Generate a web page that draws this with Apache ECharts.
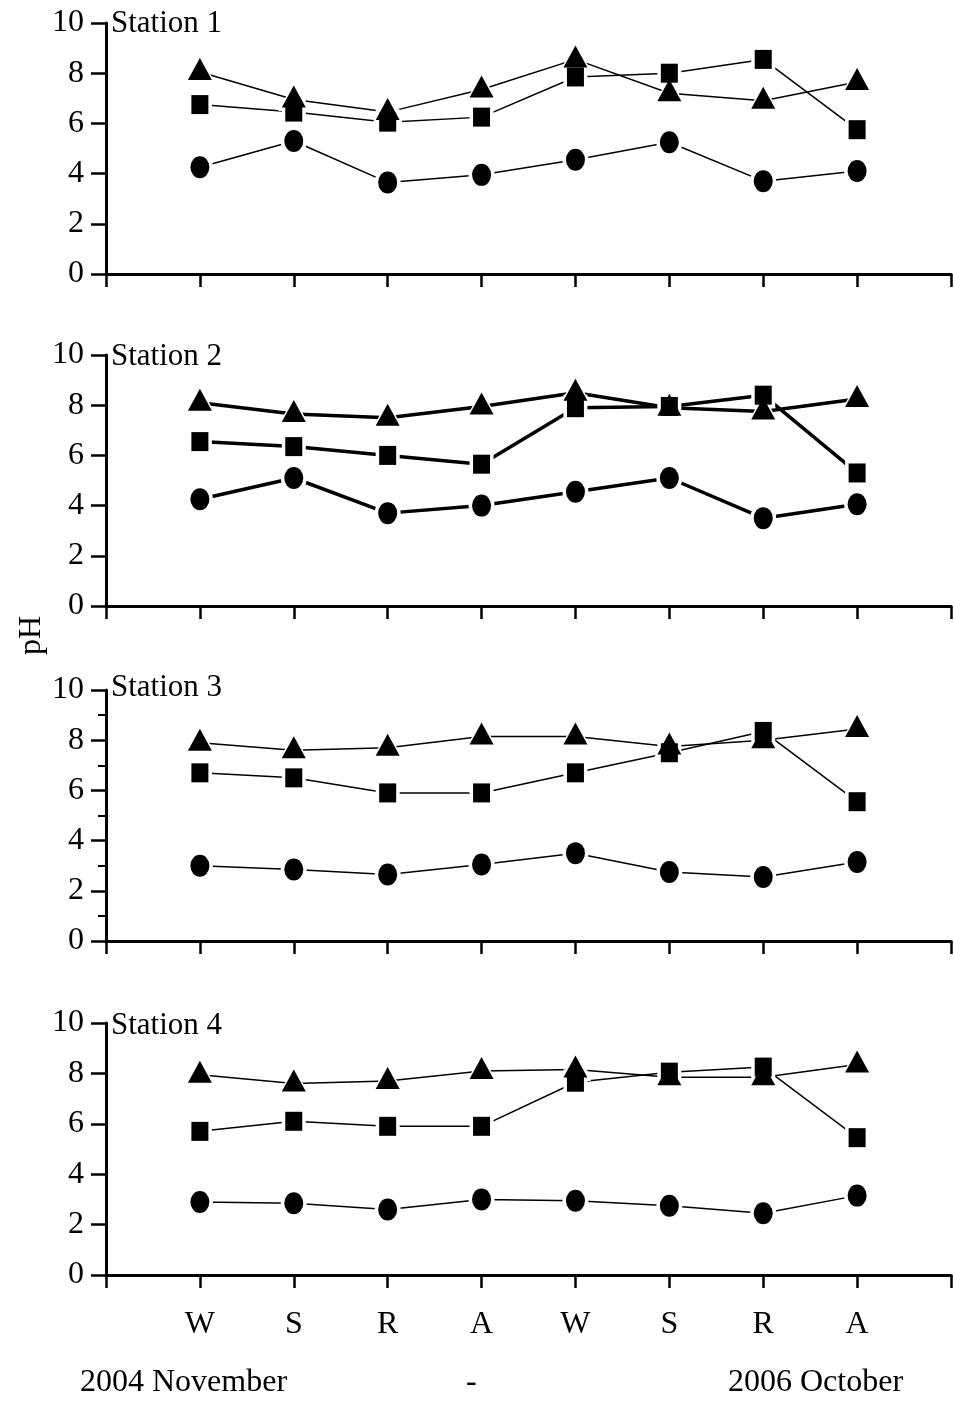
<!DOCTYPE html>
<html>
<head>
<meta charset="utf-8">
<script src="https://cdn.jsdelivr.net/npm/echarts@6/dist/echarts.min.js"></script>
<style>html,body{margin:0;padding:0;background:#fff}#c{width:954px;height:1402px}</style>
</head>
<body>
<div id="c"></div>
<script>
// Categories (seasons, 2004 November - 2006 October)
const categories = ['W','S','R','A','W','S','R','A'];
const stations = ['Station 1','Station 2','Station 3','Station 4'];
const yTicks = [0,2,4,6,8,10];

// Station 1
const tri1 = [8.05, 6.95, 6.45, 7.35, 8.55, 7.2, 6.9, 7.65];
const sq1  = [6.75, 6.45, 6.05, 6.25, 7.85, 8.0, 8.55, 5.75];
const ci1  = [4.25, 5.3, 3.65, 3.95, 4.55, 5.25, 3.7, 4.1];
// Station 2
const tri2 = [8.1, 7.65, 7.5, 7.95, 8.5, 7.9, 7.75, 8.25];
const sq2  = [6.55, 6.35, 6.0, 5.65, 7.9, 7.95, 8.4, 5.3];
const ci2  = [4.25, 5.1, 3.7, 4.0, 4.55, 5.1, 3.5, 4.05];
// Station 3
const tri3 = [7.9, 7.6, 7.7, 8.15, 8.15, 7.75, 8.0, 8.45];
const sq3  = [6.7, 6.5, 5.9, 5.9, 6.7, 7.5, 8.35, 5.55];
const ci3  = [3.0, 2.85, 2.65, 3.05, 3.5, 2.75, 2.55, 3.15];
// Station 4
const tri4 = [7.95, 7.6, 7.7, 8.1, 8.15, 7.85, 7.85, 8.35];
const sq4  = [5.7, 6.1, 5.9, 5.9, 7.65, 8.05, 8.25, 5.45];
const ci4  = [2.9, 2.85, 2.6, 3.0, 2.95, 2.75, 2.45, 3.15];

const panels = [
  {tri: tri1, sq: sq1, ci: ci1},
  {tri: tri2, sq: sq2, ci: ci2},
  {tri: tri3, sq: sq3, ci: ci3},
  {tri: tri4, sq: sq4, ci: ci4}
];

const FONT = '"Liberation Serif", "Times New Roman", serif';
const tops = [23, 355, 690, 1023];
const heights = [251, 251, 251, 252];
const lineWidths = [1.5, 3.5, 1.5, 1.5];

const shapes = {
  tri: {symbol: 'triangle', size: [24, 22], offset: [0, -3]},
  sq:  {symbol: 'rect', size: [17, 19], offset: [0, 0]},
  ci:  {symbol: 'circle', size: [19, 22], offset: [0, 0]}
};

const grid = [], xAxis = [], yAxis = [], series = [], graphic = [];

panels.forEach((p, i) => {
  grid.push({left: 106, right: 3, top: tops[i], height: heights[i]});
  xAxis.push({
    type: 'value', gridIndex: i, min: 0, max: 9, interval: 1,
    axisLine: {show: true, lineStyle: {color: '#000', width: 3}},
    axisTick: {show: true, length: 13, lineStyle: {color: '#000', width: 2.5}},
    splitLine: {show: false},
    axisLabel: {
      show: i === 3, margin: 34, fontFamily: FONT, fontSize: 32, color: '#000',
      formatter: v => categories[v - 1] || ''
    }
  });
  yAxis.push({
    type: 'value', gridIndex: i, min: 0, max: 10, interval: 2,
    axisLine: {show: true, lineStyle: {color: '#000', width: 3}},
    axisTick: {show: true, length: 15, lineStyle: {color: '#000', width: 2.5}},
    minorTick: {show: i === 2, splitNumber: 2, length: 8, lineStyle: {color: '#000', width: 2}},
    splitLine: {show: false},
    axisLabel: {margin: 22, fontFamily: FONT, fontSize: 32, color: '#000',
      formatter: v => yTicks.includes(v) ? String(v) : ''}
  });
  ['tri', 'sq', 'ci'].forEach(key => {
    const data = p[key].map((v, k) => [k + 1, v]);
    const sh = shapes[key];
    series.push({
      type: 'line', xAxisIndex: i, yAxisIndex: i, data, symbol: 'none',
      lineStyle: {color: '#000', width: lineWidths[i], opacity: 1}, z: 2, silent: true
    });
    series.push({
      type: 'scatter', xAxisIndex: i, yAxisIndex: i, data, symbol: sh.symbol,
      symbolSize: [sh.size[0] + 7, sh.size[1] + 7], symbolOffset: sh.offset,
      itemStyle: {color: '#fff', opacity: 1}, z: 3, silent: true
    });
    series.push({
      type: 'scatter', xAxisIndex: i, yAxisIndex: i, data, symbol: sh.symbol,
      symbolSize: sh.size, symbolOffset: sh.offset,
      itemStyle: {color: '#000', opacity: 1}, z: 4, silent: true
    });
  });
});

const stationY = [25, 358, 689, 1027];
stations.forEach((s, i) => {
  graphic.push({type: 'text', left: 111, top: stationY[i] - 17, z: 10,
    style: {text: s, font: '31px ' + FONT, fill: '#000'}});
});
graphic.push({type: 'text', left: 16, top: 616, rotation: Math.PI / 2, z: 10,
  style: {text: 'pH', font: '32px ' + FONT, fill: '#000'}});
graphic.push({type: 'text', left: 80, top: 1367, z: 10,
  style: {text: '2004 November', font: '32px ' + FONT, fill: '#000'}});
graphic.push({type: 'text', left: 466, top: 1367, z: 10,
  style: {text: '-', font: '32px ' + FONT, fill: '#000'}});
graphic.push({type: 'text', left: 728, top: 1367, z: 10,
  style: {text: '2006 October', font: '32px ' + FONT, fill: '#000'}});

const chart = echarts.init(document.getElementById('c'), null, {renderer: 'canvas'});
chart.setOption({animation: false, backgroundColor: '#fff', grid, xAxis, yAxis, series, graphic});
</script>
</body>
</html>
